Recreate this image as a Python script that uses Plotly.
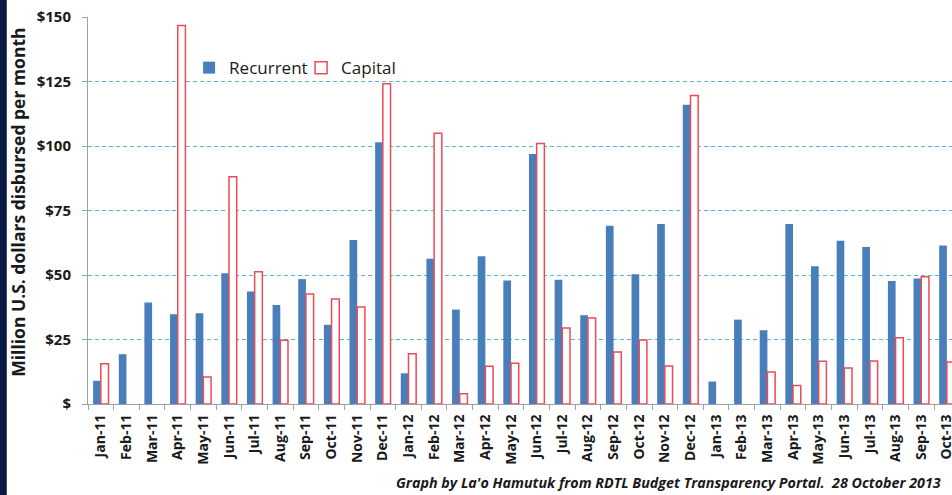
import plotly.graph_objects as go

months = ["Jan-11", "Feb-11", "Mar-11", "Apr-11", "May-11", "Jun-11", "Jul-11", "Aug-11", "Sep-11", "Oct-11", "Nov-11", "Dec-11",
          "Jan-12", "Feb-12", "Mar-12", "Apr-12", "May-12", "Jun-12", "Jul-12", "Aug-12", "Sep-12", "Oct-12", "Nov-12", "Dec-12",
          "Jan-13", "Feb-13", "Mar-13", "Apr-13", "May-13", "Jun-13", "Jul-13", "Aug-13", "Sep-13", "Oct-13"]

recurrent = [9, 19.3, 39.3, 34.8, 35.2, 50.7, 43.6, 38.4, 48.4, 30.7, 63.6, 101.5,
             11.9, 56.3, 36.6, 57.3, 47.9, 96.9, 48.2, 34.4, 69.1, 50.3, 69.8, 116,
             8.7, 32.7, 28.6, 69.8, 53.4, 63.3, 60.9, 47.7, 48.6, 61.4]

capital = [15.6, 0, 0, 146.7, 10.5, 88.1, 51.3, 24.7, 42.6, 40.7, 37.6, 124.1,
           19.5, 104.9, 4, 14.6, 15.8, 101, 29.5, 33.3, 20.2, 24.8, 14.7, 119.6,
           0, 0, 12.4, 7.2, 16.6, 14, 16.7, 25.7, 49.3, 16.3]

ytick_vals = [0, 25, 50, 75, 100, 125, 150]
ytick_text = ["$", "$25", "$50", "$75", "$100", "$125", "$150"]

font = "'Open Sans', Lato, sans-serif"

# empty months get no outline so nothing shows at zero
cap_line = [1.5 if v > 0 else 0 for v in capital]

fig = go.Figure()
fig.add_trace(go.Bar(x=months, y=recurrent, name="Recurrent",
                     marker=dict(color="#4a7ebb", line=dict(width=0))))
fig.add_trace(go.Bar(x=months, y=capital, name="Capital",
                     marker=dict(color="white", line=dict(color="#ec4b55", width=cap_line))))

fig.update_layout(
    width=952, height=495,
    margin=dict(l=88, r=0, t=17, b=91),
    paper_bgcolor="white", plot_bgcolor="white",
    barmode="group", bargap=0.4, bargroupgap=0,
    font=dict(family=font, color="#1a1a1a"),
    showlegend=True,
    legend=dict(orientation="h", x=0.117, y=0.868, xanchor="left", yanchor="middle",
                font=dict(size=17, color="#1a1a1a"), bgcolor="rgba(0,0,0,0)",
                itemwidth=30, entrywidth=67, entrywidthmode="pixels", traceorder="normal"),
)

fig.update_xaxes(
    type="category", range=[-0.5, 33.2], automargin=False,
    tickangle=-90, tickfont=dict(size=14, family=font, weight="bold"),
    ticklabelstandoff=4,
    showline=True, linecolor="#a0a0a0", linewidth=1,
    ticks="outside", tickson="boundaries", ticklen=5, tickcolor="#a0a0a0",
    showgrid=False,
)
fig.update_yaxes(
    range=[0, 150], tickvals=ytick_vals, ticktext=ytick_text, automargin=False,
    tickfont=dict(size=15, family=font, weight="bold"), ticklabelstandoff=8,
    showline=True, linecolor="#a0a0a0", linewidth=1,
    ticks="outside", ticklen=5, tickcolor="#a0a0a0",
    showgrid=True, gridcolor="#55b6da", gridwidth=1, griddash="4px,3px",
    zeroline=False,
)

# y-axis title
fig.add_annotation(text="<b>Million U.S. dollars disbursed per month</b>",
                   xref="paper", yref="paper", x=-0.081, y=0.52, textangle=-90,
                   xanchor="center", yanchor="middle",
                   showarrow=False, font=dict(size=17.5, family=font, color="#1a1a1a"))

# credit line
fig.add_annotation(text="<b><i>Graph by La'o Hamutuk from RDTL Budget Transparency Portal.  28 October 2013</i></b>",
                   xref="paper", yref="paper", x=0.99, y=-0.202, xanchor="right", yanchor="middle",
                   showarrow=False, font=dict(size=14.3, family=font, color="#1a1a1a"))

# dark frame edge on the left
fig.add_shape(type="rect", xref="paper", yref="paper", x0=-0.102, x1=-0.094, y0=-0.236, y1=1.044,
              fillcolor="#0b1a45", line=dict(width=0), layer="above")

fig.write_html("out.html", config={"displayModeBar": False},
               post_script="document.body.style.margin='0';document.body.style.overflow='hidden';")
